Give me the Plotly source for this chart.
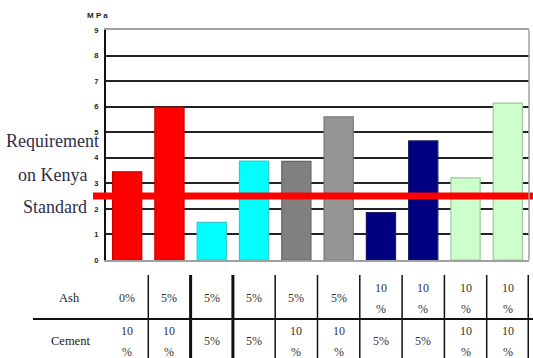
import plotly.graph_objects as go

# ---- data ----
categories = list(range(10))
strength = [3.45, 5.97, 1.47, 3.87, 3.86, 5.6, 1.85, 4.66, 3.21, 6.14]
bar_colors = ["#FF0000", "#FF0000", "#00FFFF", "#00FFFF", "#808080",
              "#969696", "#000080", "#000080", "#CCFFCC", "#CCFFCC"]
bar_edges = ["#CC0000", "#CC0000", "#33CCCC", "#33CCCC", "#666666",
             "#777777", "#1A1A66", "#1A1A66", "#99CC99", "#99CC99"]
ash_labels = ["0%", "5%", "5%", "5%", "5%", "5%", "10%", "10%", "10%", "10%"]
cement_labels = ["10%", "10%", "5%", "5%", "10%", "10%", "5%", "5%", "10%", "10%"]
requirement = 2.5
y_ticks = list(range(0, 10))
side_text = ["Requirement", "on Kenya", "Standard"]

W, H = 533, 358
L, R, T, B = 106, 4, 30, 98
PW, PH = W - L - R, H - T - B
SERIF = "Liberation Serif, Times New Roman, serif"


def px_y(py):  # pixel row -> paper y
    return (H - B - py) / PH


def px_x(px):
    return (px - L) / PW


fig = go.Figure()
fig.add_trace(go.Bar(
    x=categories, y=strength,
    marker=dict(color=bar_colors, line=dict(color=bar_edges, width=1.2)),
    showlegend=False,
))

shapes = []
# requirement line
shapes.append(dict(type="line", xref="paper", yref="y",
                   x0=px_x(93), x1=px_x(540), y0=requirement, y1=requirement,
                   line=dict(color="#FF0000", width=7), layer="above"))
# right border
shapes.append(dict(type="line", xref="paper", yref="paper", x0=1, x1=1, y0=0, y1=1,
                   line=dict(color="#A0A0A0", width=1.5)))
# table horizontal line
shapes.append(dict(type="line", xref="paper", yref="paper",
                   x0=px_x(33), x1=px_x(540), y0=px_y(319), y1=px_y(319),
                   line=dict(color="#111111", width=2)))
# table vertical lines
thick = {1, 2, 9}
for i in categories:
    shapes.append(dict(type="line", xref="x", yref="paper",
                       x0=i + 0.5, x1=i + 0.5, y0=px_y(275), y1=px_y(362),
                       line=dict(color="#111111", width=3 if i in thick else 1.5)))

annotations = []
# MPa
annotations.append(dict(text="<b>M P a</b>", xref="paper", yref="paper",
                        x=px_x(97), y=px_y(16), xanchor="center", yanchor="middle",
                        showarrow=False,
                        font=dict(family="Liberation Sans", size=8, color="#222222")))
# side text
for t, py in zip(side_text, [141, 175, 207]):
    annotations.append(dict(text=t, xref="paper", yref="paper",
                            x=px_x(101) if t == side_text[0] else px_x(89),
                            y=px_y(py), xanchor="right", yanchor="middle",
                            showarrow=False,
                            font=dict(family=SERIF, size=18, color="#2E2E48")))

tfont = dict(family=SERIF, size=12, color="#333333")
row_y = {"ash": 298, "cement": 341}
annotations.append(dict(text="Ash", xref="paper", yref="paper", x=px_x(69), y=px_y(row_y["ash"]),
                        xanchor="center", yanchor="middle", showarrow=False,
                        font=dict(family=SERIF, size=12.5, color="#222222")))
annotations.append(dict(text="Cement", xref="paper", yref="paper", x=px_x(70), y=px_y(row_y["cement"]),
                        xanchor="center", yanchor="middle", showarrow=False,
                        font=dict(family=SERIF, size=12.5, color="#222222")))

for labels, key in [(ash_labels, "ash"), (cement_labels, "cement")]:
    for i, lab in zip(categories, labels):
        yc = px_y(row_y[key])
        common = dict(xref="x", yref="paper", x=i, y=yc, xanchor="center",
                      yanchor="middle", showarrow=False, font=tfont)
        if len(lab) > 2:
            annotations.append(dict(text=lab[:-1], yshift=10.5, **common))
            annotations.append(dict(text=lab[-1], yshift=-10.5, **common))
        else:
            annotations.append(dict(text=lab, **common))

fig.update_layout(
    width=W, height=H,
    margin=dict(l=L, r=R, t=T, b=B, pad=0),
    paper_bgcolor="white", plot_bgcolor="white",
    bargap=0.31,
    shapes=shapes, annotations=annotations,
    xaxis=dict(range=[-0.5, 9.5], showticklabels=False, ticks="", showgrid=False,
               zeroline=False, showline=True, linecolor="#A0A0A0", linewidth=1.5,
               mirror=True, fixedrange=True),
    yaxis=dict(range=[0, 9], tickvals=y_ticks, showgrid=True, gridcolor="#222222",
               gridwidth=1.5, zeroline=False, showline=True, linecolor="#111111",
               linewidth=2, ticks="", ticklabelstandoff=4,
               tickfont=dict(family="Liberation Sans", size=7.5, color="#222222", weight="bold"),
               fixedrange=True),
)

fig.write_html("out.html", config={"displayModeBar": False})
